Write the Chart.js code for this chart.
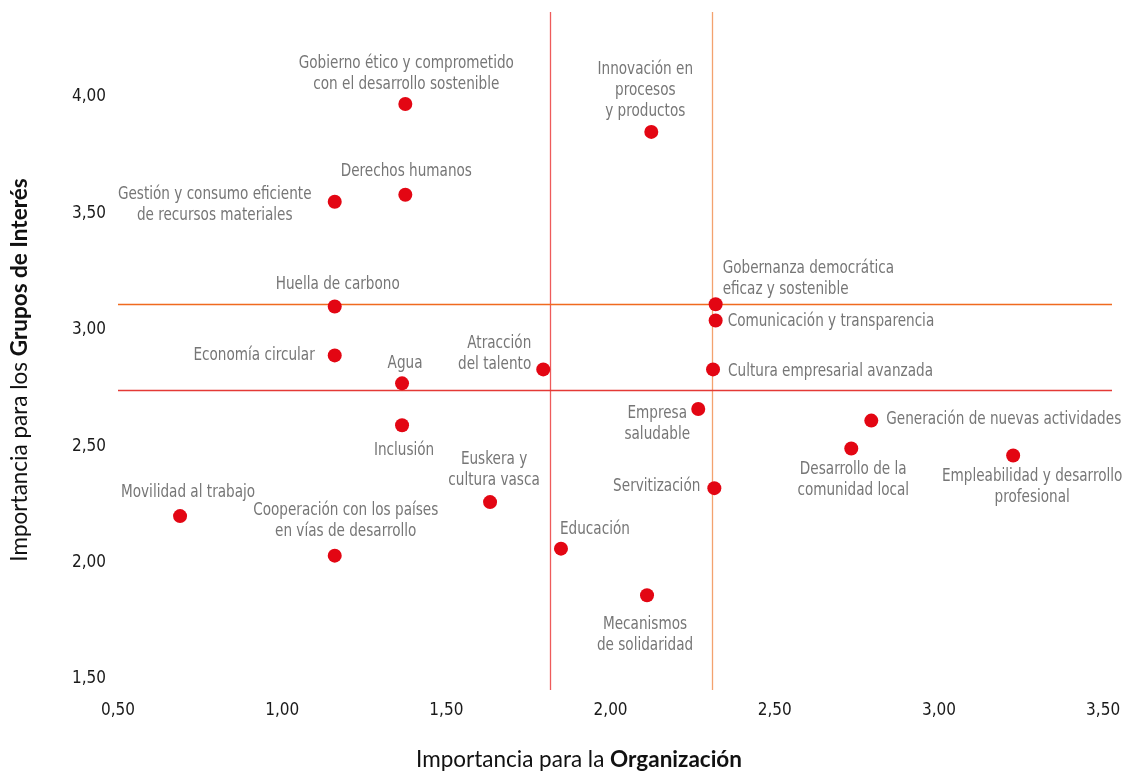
<!DOCTYPE html>
<html>
<head>
<meta charset="utf-8">
<script src="https://cdn.jsdelivr.net/npm/chart.js@4/dist/chart.umd.min.js"></script>
<style>
  html, body { margin: 0; padding: 0; background: #fff; }
  #wrap { width: 1128px; height: 772px; }
</style>
</head>
<body>
<div id="wrap"><canvas id="matriz" width="1128" height="772"></canvas></div>
<script>
// Materiality topics (line breaks as in the original labels)
const TOPICS = [
  "Gobierno ético y comprometido\ncon el desarrollo sostenible",
  "Innovación en\nprocesos\ny productos",
  "Derechos humanos",
  "Gestión y consumo eficiente\nde recursos materiales",
  "Huella de carbono",
  "Gobernanza democrática\neficaz y sostenible",
  "Comunicación y transparencia",
  "Economía circular",
  "Agua",
  "Atracción\ndel talento",
  "Cultura empresarial avanzada",
  "Empresa\nsaludable",
  "Generación de nuevas actividades",
  "Inclusión",
  "Desarrollo de la\ncomunidad local",
  "Empleabilidad y desarrollo\nprofesional",
  "Servitización",
  "Euskera y\ncultura vasca",
  "Movilidad al trabajo",
  "Cooperación con los países\nen vías de desarrollo",
  "Educación",
  "Mecanismos\nde solidaridad"
];
// Importancia para la Organización (x)
const ORG_VALUES = [1.375, 2.124, 1.375, 1.16, 1.16, 2.32, 2.32, 1.16, 1.365, 1.795, 2.312, 2.267,
                    2.794, 1.365, 2.733, 3.226, 2.316, 1.633, 0.689, 1.16, 1.849, 2.111];
// Importancia para los Grupos de Interés (y)
const GI_VALUES = [3.97, 3.85, 3.58, 3.55, 3.10, 3.11, 3.04, 2.89, 2.77, 2.83, 2.83, 2.66,
                   2.61, 2.59, 2.49, 2.46, 2.32, 2.26, 2.20, 2.03, 2.06, 1.86];
const X_TICKS = [0.5, 1.0, 1.5, 2.0, 2.5, 3.0, 3.5];
const Y_TICKS = [1.5, 2.0, 2.5, 3.0, 3.5, 4.0];
// Threshold lines
const ORG_THRESHOLDS = [1.815, 2.31];
const GI_THRESHOLDS = [3.11, 2.74];

// label placement: align, offset of first line from the point (px)
const LABEL_POS = [
  ['center', 1, -41], ['center', -6, -63], ['center', 1, -23], ['center', -120, -7],
  ['center', 3, -22], ['left', 7, -36], ['left', 12, 1], ['right', -20, 0],
  ['center', 3, -20], ['right', -12, -26], ['left', 15, 2], ['center', -41, 4],
  ['left', 15, -1], ['center', 2, 25], ['center', 2, 21], ['center', 19, 21],
  ['right', -14, -2], ['center', 4, -43], ['center', 8, -24], ['center', 11, -45],
  ['left', -1, -19], ['center', -2, 29]
];
const V_LINE_COLORS = ['#ee5b5b', '#f3a26f'];
const H_LINE_COLORS = ['#f06a1f', '#e43a36'];

const NARROW = '"Liberation Sans Narrow", "DejaVu Sans Condensed", sans-serif';
const SQUEEZE = 0.84;
const fmt = v => v.toFixed(2).replace('.', ',');

const decor = {
  id: 'decor',
  beforeDatasetsDraw(chart) {
    const {ctx, chartArea: a, scales: {x, y}} = chart;
    ctx.save();
    ctx.lineWidth = 1.3;
    ORG_THRESHOLDS.forEach((v, i) => {
      const px = Math.round(x.getPixelForValue(v)) + 0.5;
      ctx.strokeStyle = V_LINE_COLORS[i];
      ctx.beginPath(); ctx.moveTo(px, a.top); ctx.lineTo(px, a.bottom); ctx.stroke();
    });
    GI_THRESHOLDS.forEach((v, i) => {
      const py = Math.round(y.getPixelForValue(v)) + 0.5;
      ctx.strokeStyle = H_LINE_COLORS[i];
      ctx.beginPath(); ctx.moveTo(a.left, py); ctx.lineTo(a.right, py); ctx.stroke();
    });
    ctx.restore();
  },
  afterDatasetsDraw(chart) {
    const {ctx} = chart;
    const meta = chart.getDatasetMeta(0);
    ctx.save();
    ctx.font = '18px ' + NARROW;
    ctx.fillStyle = '#767676';
    ctx.textBaseline = 'middle';
    meta.data.forEach((pt, i) => {
      const [align, dx, dy] = LABEL_POS[i];
      ctx.textAlign = align;
      TOPICS[i].split('\n').forEach((line, k) => {
        ctx.save();
        ctx.translate(pt.x + dx, pt.y + dy + k * 21);
        ctx.scale(SQUEEZE, 1);
        ctx.fillText(line, 0, 0);
        ctx.restore();
      });
    });

    // axis titles with bold part
    const drawMixed = (parts, cx, cy) => {
      let total = 0;
      parts.forEach(p => { ctx.font = p[1] + ' 22.5px Lato, sans-serif'; total += ctx.measureText(p[0]).width; });
      let xx = cx - total / 2;
      ctx.textAlign = 'left';
      parts.forEach(p => {
        ctx.font = p[1] + ' 22.5px Lato, sans-serif';
        ctx.fillText(p[0], xx, cy);
        xx += ctx.measureText(p[0]).width;
      });
    };
    ctx.fillStyle = '#111';
    ctx.textBaseline = 'middle';
    drawMixed([['Importancia para la ', 'normal'], ['Organización', 'bold']], 579, 760);
    ctx.translate(20, 370);
    ctx.rotate(-Math.PI / 2);
    drawMixed([['Importancia para los ', 'normal'], ['Grupos de Interés', 'bold']], 0, 0);
    ctx.restore();
  }
};

new Chart(document.getElementById('matriz'), {
  type: 'scatter',
  data: {
    datasets: [{
      label: 'Temas materiales',
      data: ORG_VALUES.map((v, i) => ({x: v, y: GI_VALUES[i]})),
      backgroundColor: '#e30613',
      borderWidth: 0,
      pointRadius: 7,
      pointHoverRadius: 7
    }]
  },
  options: {
    responsive: false,
    animation: false,
    layout: { padding: { top: 12, right: 16, left: 0, bottom: 0 } },
    plugins: { legend: { display: false }, tooltip: { enabled: false } },
    scales: {
      x: {
        min: 0.5, max: 3.527,
        afterBuildTicks: s => { s.ticks = X_TICKS.map(v => ({value: v})); },
        afterFit: s => { s.height = 82; s.paddingLeft = 0; s.paddingRight = 0; },
        grid: { display: false, drawTicks: false },
        border: { display: false },
        ticks: { padding: 10, color: '#1a1a1a', font: { family: NARROW, size: 17 }, callback: v => fmt(v), maxRotation: 0 }
      },
      y: {
        min: 1.453, max: 4.365,
        afterBuildTicks: s => { s.ticks = Y_TICKS.map(v => ({value: v})); },
        afterFit: s => { s.width = 118; s.paddingTop = 0; s.paddingBottom = 0; },
        grid: { display: false, drawTicks: false },
        border: { display: false },
        ticks: { padding: 12, color: '#1a1a1a', font: { family: NARROW, size: 17 }, callback: v => fmt(v) }
      }
    }
  },
  plugins: [decor]
});
</script>
</body>
</html>
